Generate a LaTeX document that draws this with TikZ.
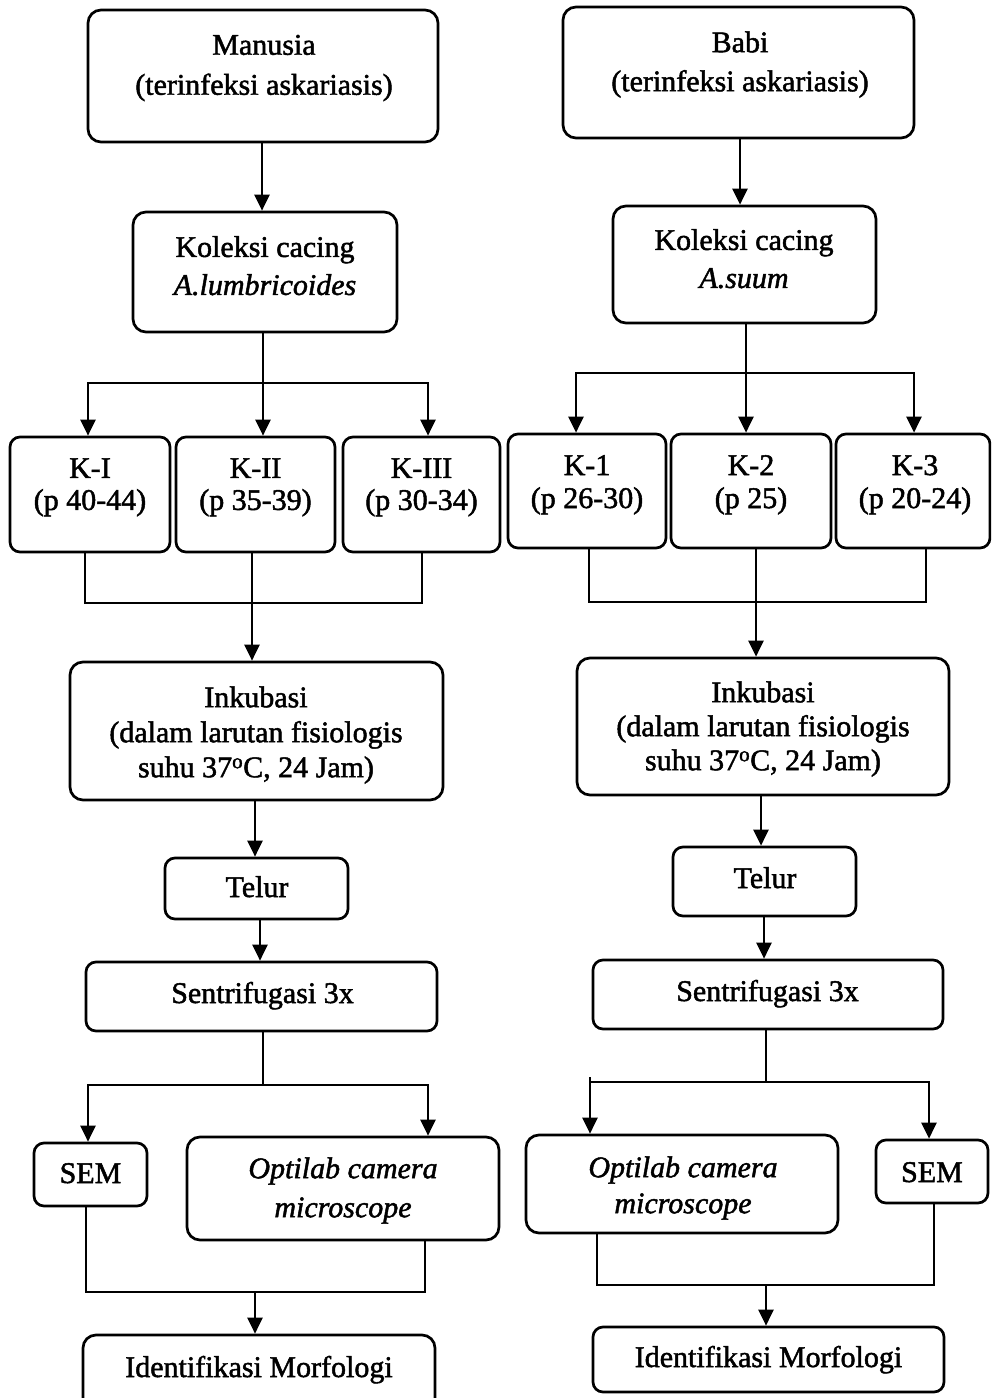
\documentclass[tikz,border=0pt]{standalone}
\usepackage{fontspec}
\setmainfont{Liberation Serif}[FakeBold=1.6]
\usetikzlibrary{arrows.meta}
\begin{document}
\begin{tikzpicture}[x=1pt,y=-1pt,
  box/.style={draw, line width=2.7pt, rounded corners=13pt, inner sep=0pt},
  sbox/.style={box, rounded corners=10pt},
  txt/.style={align=center, inner sep=0pt, font=\fontsize{30}{40}\selectfont},
  ln/.style={line width=2.6pt},
  arr/.style={ln, -{Triangle[width=15pt,length=16pt]}},
]
\useasboundingbox (0,0) rectangle (991,1398);
\clip (0,0) rectangle (991,1398);

% ---------------- LEFT COLUMN ----------------
\node[box, minimum width=350pt, minimum height=132pt] (m1) at (263,76) {};
\node[txt] (m1t) at (264,68) {Manusia\\(terinfeksi askariasis)};

\node[box, minimum width=264pt, minimum height=120pt] (k1) at (265,272) {};
\node[txt, font=\fontsize{30}{38}\selectfont] (k1t) at (265,265.75) {Koleksi cacing\\\textit{A.lumbricoides}};

\node[sbox, minimum width=160pt, minimum height=115pt] (kI) at (90,494.5) {};
\node[txt, font=\fontsize{30}{32}\selectfont] (kIt) at (90,487.3) {K-I\\(p 40-44)};
\node[sbox, minimum width=159pt, minimum height=115pt] (kII) at (255.5,494.5) {};
\node[txt, font=\fontsize{30}{32}\selectfont] (kIIt) at (255.5,487.3) {K-II\\(p 35-39)};
\node[sbox, minimum width=157pt, minimum height=115pt] (kIII) at (421.5,494.5) {};
\node[txt, font=\fontsize{30}{32}\selectfont] (kIIIt) at (421.5,487.3) {K-III\\(p 30-34)};

\node[box, minimum width=373pt, minimum height=138pt] (inc) at (256.5,731) {};
\node[txt, font=\fontsize{30}{35}\selectfont] (inct) at (256,735) {Inkubasi\\(dalam larutan fisiologis\\suhu 37\textsuperscript{o}C, 24 Jam)};

\node[sbox, minimum width=183pt, minimum height=61pt] (tel) at (256.5,888.5) {};
\node[txt, anchor=base] (telt) at (257,897) {Telur};

\node[sbox, minimum width=351pt, minimum height=69pt] (sen) at (261.5,996.5) {};
\node[txt, anchor=base] (sent) at (262.5,1003) {Sentrifugasi 3x};

\node[sbox, minimum width=113pt, minimum height=63pt] (sem) at (90.5,1174.5) {};
\node[txt, anchor=base] (semt) at (90.5,1183) {SEM};

\node[box, minimum width=312pt, minimum height=103pt] (opt) at (343,1188.5) {};
\node[txt, font=\fontsize{30}{39}\selectfont] (optt) at (343,1190.5) {\textit{Optilab camera}\\\textit{microscope}};

\node[box, minimum width=352pt, minimum height=90pt] (idf) at (259,1380) {};
\node[txt, anchor=base] (idft) at (259,1377) {Identifikasi Morfologi};

% left connectors
\draw[arr] (262,0 |- m1.south) -- (262,0 |- k1.north);
\coordinate (jL1) at (263,383);
\draw[ln] (263,0 |- k1.south) -- (jL1);
\draw[arr] (jL1) -| (88,0 |- kI.north);
\draw[arr] (jL1) -| (428,0 |- kIII.north);
\draw[arr] (jL1) -- (263,0 |- kII.north);

\coordinate (jL2) at (252,603);
\draw[ln] (85,0 |- kI.south) |- (422,603) -- (422,0 |- kIII.south);
\draw[arr] (252,0 |- kII.south) -- (252,0 |- inc.north);

\draw[arr] (255,0 |- inc.south) -- (255,0 |- tel.north);
\draw[arr] (260,0 |- tel.south) -- (260,0 |- sen.north);

\coordinate (jL3) at (263,1085);
\draw[ln] (263,0 |- sen.south) -- (jL3);
\draw[arr] (jL3) -| (88,0 |- sem.north);
\draw[arr] (jL3) -| (428,0 |- opt.north);

\coordinate (jL4) at (255,1292);
\draw[ln] (86,0 |- sem.south) |- (425,1292) -- (425,0 |- opt.south);
\draw[arr] (jL4) -- (255,0 |- idf.north);

% ---------------- RIGHT COLUMN ----------------
\node[box, minimum width=351pt, minimum height=131pt] (m2) at (738.5,72.5) {};
\node[txt, font=\fontsize{30}{39}\selectfont] (m2t) at (740,64.5) {Babi\\(terinfeksi askariasis)};

\node[box, minimum width=263pt, minimum height=117pt] (k2) at (744.5,264.5) {};
\node[txt, font=\fontsize{30}{38}\selectfont] (k2t) at (744,258.75) {Koleksi cacing\\\textit{A.suum}};

\node[sbox, minimum width=158pt, minimum height=114pt] (k1r) at (587,491) {};
\node[txt, font=\fontsize{30}{33}\selectfont] (k1rt) at (587,484.8) {K-1\\(p 26-30)};
\node[sbox, minimum width=160pt, minimum height=114pt] (k2r) at (751,491) {};
\node[txt, font=\fontsize{30}{33}\selectfont] (k2rt) at (751,484.8) {K-2\\(p 25)};
\node[sbox, minimum width=154pt, minimum height=114pt] (k3r) at (913,491) {};
\node[txt, font=\fontsize{30}{33}\selectfont] (k3rt) at (915,484.8) {K-3\\(p 20-24)};

\node[box, minimum width=372pt, minimum height=137pt] (inr) at (763,726.5) {};
\node[txt, font=\fontsize{30}{34}\selectfont] (inrt) at (763,729) {Inkubasi\\(dalam larutan fisiologis\\suhu 37\textsuperscript{o}C, 24 Jam)};

\node[sbox, minimum width=183pt, minimum height=69pt] (ter) at (764.5,881.5) {};
\node[txt, anchor=base] (tert) at (765,888) {Telur};

\node[sbox, minimum width=350pt, minimum height=69pt] (ser) at (768,994.5) {};
\node[txt, anchor=base] (sert) at (767.5,1001) {Sentrifugasi 3x};

\node[box, minimum width=312pt, minimum height=98pt] (opr) at (682,1184) {};
\node[txt, font=\fontsize{30}{36}\selectfont] (oprt) at (683,1188) {\textit{Optilab camera}\\\textit{microscope}};

\node[sbox, minimum width=112pt, minimum height=63pt] (smr) at (932,1171.5) {};
\node[txt, anchor=base] (smrt) at (932,1182) {SEM};

\node[sbox, minimum width=351pt, minimum height=65pt] (idr) at (768.5,1359.5) {};
\node[txt, anchor=base] (idrt) at (768.5,1367) {Identifikasi Morfologi};

% right connectors
\draw[arr] (740,0 |- m2.south) -- (740,0 |- k2.north);
\coordinate (jR1) at (746,373);
\draw[ln] (746,0 |- k2.south) -- (jR1);
\draw[arr] (jR1) -| (576,0 |- k1r.north);
\draw[arr] (jR1) -| (914,0 |- k3r.north);
\draw[arr] (jR1) -- (746,0 |- k2r.north);

\draw[ln] (589,0 |- k1r.south) |- (926,602) -- (926,0 |- k3r.south);
\draw[arr] (756,0 |- k2r.south) -- (756,0 |- inr.north);

\draw[arr] (761,0 |- inr.south) -- (761,0 |- ter.north);
\draw[arr] (764,0 |- ter.south) -- (764,0 |- ser.north);

\coordinate (jR3) at (766,1082);
\draw[ln] (766,0 |- ser.south) -- (jR3);
\draw[ln] (jR3) -- (590,1082);
\draw[arr] (590,1077) -- (590,0 |- opr.north);
\draw[arr] (jR3) -| (929,0 |- smr.north);

\coordinate (jR4) at (766,1285);
\draw[ln] (597,0 |- opr.south) |- (934,1285) -- (934,0 |- smr.south);
\draw[arr] (jR4) -- (766,0 |- idr.north);
\end{tikzpicture}
\end{document}
